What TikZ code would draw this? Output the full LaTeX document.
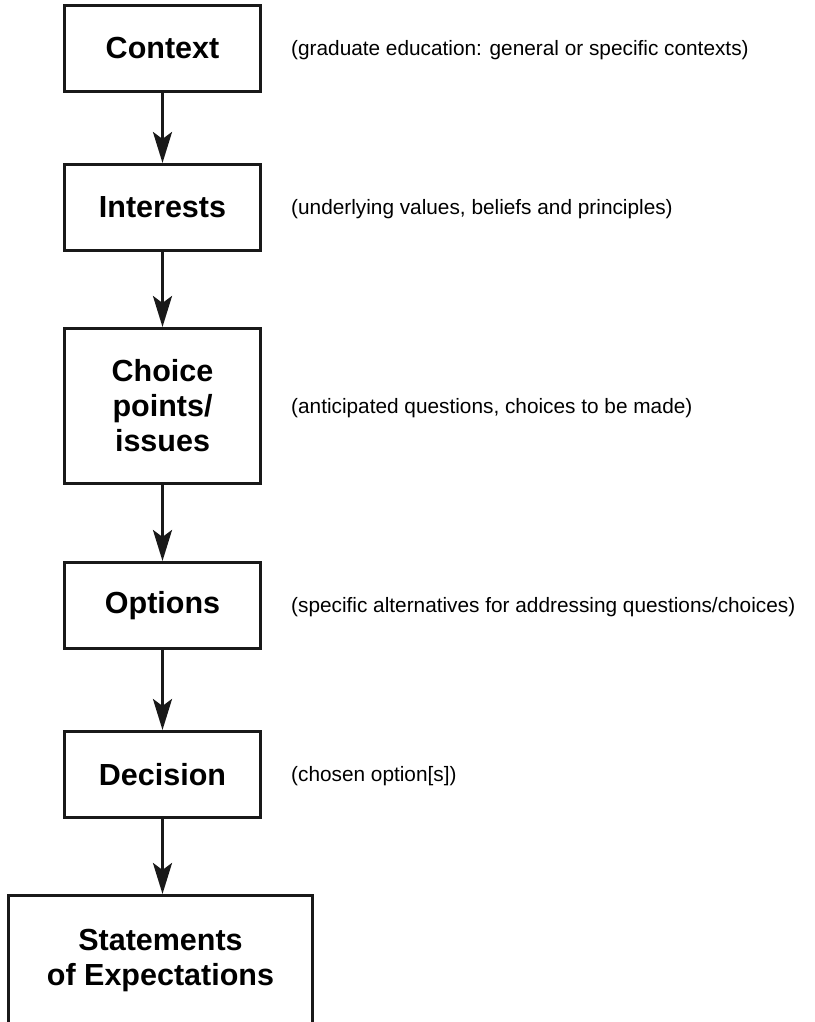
\documentclass[tikz,border=0pt]{standalone}
\usepackage{fontspec}
\setmainfont{Liberation Sans}
\usetikzlibrary{arrows.meta}
\tikzset{
  boxline/.style={line width=3pt, draw=black!90},
  stepbox/.style={boxline, rectangle, minimum width=196pt, minimum height=86pt,
    inner sep=0pt, align=center, font=\bfseries\fontsize{30.5}{35}\selectfont},
  note/.style={anchor=west, inner sep=0pt, font=\fontsize{20.8}{24}\selectfont},
  flow/.style={line width=3pt, draw=black!90, -{Stealth[length=31pt,width=19pt,inset=7pt]}}
}
\begin{document}
\begin{tikzpicture}[x=1pt,y=-1pt]
\useasboundingbox (0,0) rectangle (814,1022);
\node[stepbox] (context) at (162.5,48.5) {Context};
\node[stepbox] (interests) at (162.5,207.5) {Interests};
\node[stepbox, minimum height=155pt] (choice) at (162.5,406) {Choice\\points/\\issues};
\node[stepbox] (options) at (162.5,605.5) {Options};
\node[stepbox] (decision) at (162.5,774.5) {Decision};
\node[rectangle, minimum width=304pt, minimum height=129.5pt, inner sep=0pt, outer sep=0pt,
  align=center, font=\bfseries\fontsize{30.5}{35}\selectfont] (stmt) at (160.5,960.25)
  {Statements\\of Expectations};
\draw[boxline] (stmt.south west) |- (stmt.north east) -- (stmt.south east);

\node[note] (ncontext) at (291,50) {(graduate education: general or specific contexts)};
\node[note] (ninterests) at (291,209) {(underlying values, beliefs and principles)};
\node[note] (nchoice) at (291,408) {(anticipated questions, choices to be made)};
\node[note] (noptions) at (291,607) {(specific alternatives for addressing questions/choices)};
\node[note] (ndecision) at (291,776) {(chosen option[s])};

\draw[flow] (context) -- (interests);
\draw[flow] (interests) -- (choice);
\draw[flow] (choice) -- (options);
\draw[flow] (options) -- (decision);
\draw[flow] (decision.south) -- ([yshift=1.5pt]decision.south |- stmt.north);
\end{tikzpicture}
\end{document}
